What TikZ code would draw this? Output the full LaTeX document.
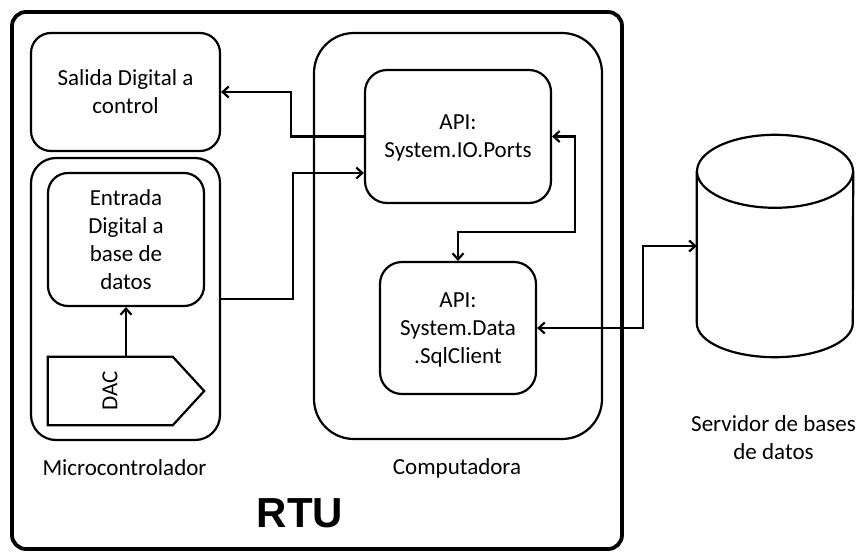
\documentclass[tikz,border=0pt]{standalone}
\usepackage{fontspec}
\usepackage{graphicx}
\setmainfont{Carlito}
\newfontfamily\rtufont{Liberation Sans}
\usetikzlibrary{arrows.meta,calc}
\begin{document}
\begin{tikzpicture}[x=1pt, y=-1pt,
  font=\fontsize{23}{28}\selectfont,
  blk/.style={draw, line width=2.2pt, rounded corners=20pt, align=center,
    inner sep=0pt, text depth=0pt},
  cont/.style={draw, line width=2.2pt, inner sep=0pt},
  tip/.tip={Straight Barb[length=6pt, width=11pt]},
  link/.style={line width=2.2pt, -tip},
  link2/.style={line width=2.2pt, tip-tip},
  lbl/.style={align=center, inner sep=0pt}]
\useasboundingbox (0,0) rectangle (861,551);

% outer RTU frame
\node[cont, line width=3.8pt, rounded corners=14pt,
      minimum width=610pt, minimum height=537pt] (rtu) at (317,280.5) {};

% microcontroller side
\node[blk, minimum width=189pt, minimum height=118pt] (salida) at (125.5,92)
  {Salida Digital a\\control};
\node[cont, rounded corners=25pt, minimum width=189pt, minimum height=282pt]
  (micro) at (125.5,299) {};
\node[blk, minimum width=156pt, minimum height=133pt] (entrada) at (126,239.5)
  {Entrada\\Digital a\\base de\\datos};

% DAC block (pentagon)
\node[minimum width=156pt, minimum height=68pt, inner sep=0pt] (dac) at (126,391) {};
\draw[line width=2.2pt, line join=miter]
  (dac.north west) -- ++(125,0) -- (dac.east)
  -- ($(dac.south west)+(125,0)$) -- (dac.south west) -- cycle;
\node[lbl, rotate=90] (dactxt) at (110,391) {DAC};

% computer side
\node[cont, rounded corners=40pt, minimum width=288pt, minimum height=406pt]
  (comp) at (458,236) {};
\node[blk, rounded corners=22pt, minimum width=186pt, minimum height=133pt]
  (ports) at (458,136.5) {API:\\System.IO.Ports};
\node[blk, rounded corners=22pt, minimum width=156pt, minimum height=132pt]
  (sql) at (458,328) {API:\\System.Data\\.SqlClient};

% database server (cylinder)
\node[minimum width=156pt, minimum height=222pt, inner sep=0pt] (db) at (775,246) {};
\draw[line width=2.2pt] ($(db.north)+(0,36.5)$) ellipse [x radius=78pt, y radius=36.5pt];
\draw[line width=2.2pt]
  ($(db.north west)+(0,36.5)$) -- ($(db.south west)+(0,-34)$)
  arc[start angle=180, end angle=360, x radius=78pt, y radius=34pt]
  -- ($(db.north east)+(0,36.5)$);

% connectors
\draw[link] (ports.west) -- ++(-73,0) |- (salida.east);
\draw[link] (micro.east) -- ++(72,0) |- ($(ports.west)+(0,36.5)$);
\draw[link2] (ports.east) -- ++(23,0) -- ++(0,95.5) -| (sql.north);
\draw[link2] (sql.east) -- ++(106,0) |- (db.west);
\draw[link] (dac.north) -- (entrada.south);

% captions
\node[lbl] (lmicro) at (124.5,467.5) {Microcontrolador};
\node[lbl] (lcomp) at (457,468) {Computadora};
\node[lbl] (lsrv) at (773.5,438) {Servidor de bases\\de datos};
\node[lbl, font=\rtufont\bfseries\fontsize{42}{50}\selectfont] (lrtu) at (300,513.5) {RTU};
\end{tikzpicture}
\end{document}
